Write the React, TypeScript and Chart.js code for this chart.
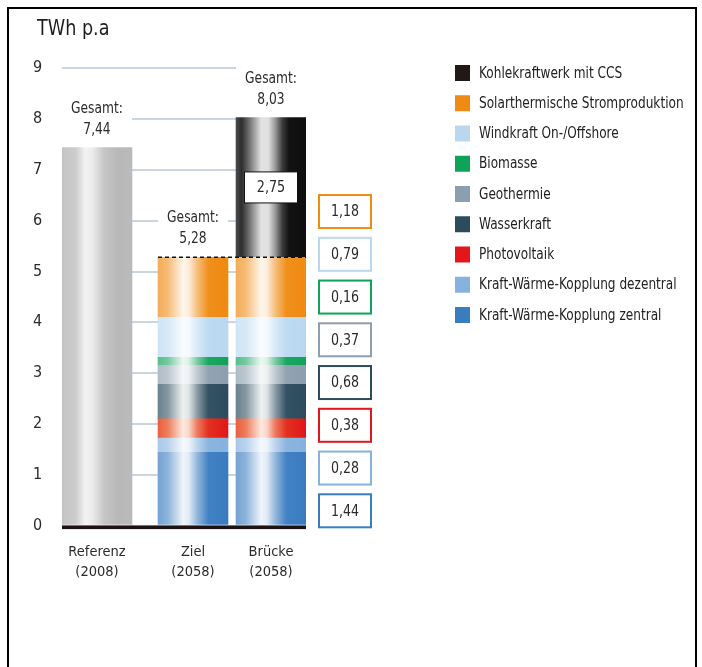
import React, { useEffect, useRef } from 'react';
import { Chart, registerables } from 'chart.js';

Chart.register(...registerables);

// Scenarios on the x axis (two-line labels)
const scenarios = ['Referenz', 'Ziel', 'Brücke'];
const scenarioYears = ['(2008)', '(2058)', '(2058)'];

// Electricity generation in TWh p.a per scenario
const referenz = [7.44, 0, 0];
const kwkZentral = [0, 1.44, 1.44];
const kwkDezentral = [0, 0.28, 0.28];
const photovoltaik = [0, 0.38, 0.38];
const wasserkraft = [0, 0.68, 0.68];
const geothermie = [0, 0.37, 0.37];
const biomasse = [0, 0.16, 0.16];
const windkraft = [0, 0.79, 0.79];
const solarthermie = [0, 1.18, 1.18];
const kohleCCS = [0, 0, 2.75];

// Value axis
const yMin = 0;
const yMax = 9;
const yStep = 1;

const FONT = '"DejaVu Sans Condensed", "Liberation Sans Narrow", sans-serif';
const TEXT = '#2b2b2b';

// Horizontal placement of the three columns (fraction of plot width)
const slotPos = [0.1434, 0.5369, 0.8566];
const BAR_W = 70;

type Stop = [number, string];

const series = [
  { label: 'Referenz', values: referenz, color: '#bdbdbd', legend: false },
  { label: 'Kraft-Wärme-Kopplung zentral', values: kwkZentral, color: '#3a7cc0', legend: true },
  { label: 'Kraft-Wärme-Kopplung dezentral', values: kwkDezentral, color: '#86b2de', legend: true },
  { label: 'Photovoltaik', values: photovoltaik, color: '#e2161b', legend: true },
  { label: 'Wasserkraft', values: wasserkraft, color: '#2c4b5d', legend: true },
  { label: 'Geothermie', values: geothermie, color: '#8d9eae', legend: true },
  { label: 'Biomasse', values: biomasse, color: '#11a25a', legend: true },
  { label: 'Windkraft On-/Offshore', values: windkraft, color: '#b9d8f0', legend: true },
  { label: 'Solarthermische Stromproduktion', values: solarthermie, color: '#ef8a12', legend: true },
  { label: 'Kohlekraftwerk mit CCS', values: kohleCCS, color: '#231815', legend: true },
];

const greyStops: Stop[] = [
  [0, '#c4c4c4'], [0.2, '#cdcdcd'], [0.33, '#f2f2f2'], [0.43, '#ececec'],
  [0.6, '#c6c6c6'], [0.8, '#b8b8b8'], [1, '#bababa'],
];
const coalStops: Stop[] = [
  [0, '#4a4a4a'], [0.08, '#2e2e2e'], [0.2, '#777777'], [0.36, '#e2e2e2'],
  [0.46, '#e0e0e0'], [0.56, '#9a9a9a'], [0.66, '#3c3c3c'], [0.76, '#121212'], [1, '#0e0e0e'],
];
const redStops: Stop[] = [
  [0, '#e9603f'], [0.14, '#ee7d5c'], [0.36, '#fde9e0'], [0.44, '#fad6c8'],
  [0.56, '#ee7a5e'], [0.72, '#e2301f'], [1, '#e1161b'],
];

function hexToRgb(hex: string) {
  const n = parseInt(hex.slice(1), 16);
  return [(n >> 16) & 255, (n >> 8) & 255, n & 255];
}
function tint(hex: string, t: number) {
  const [r, g, b] = hexToRgb(hex);
  const m = (c: number) => Math.round(c + (255 - c) * t);
  return `rgb(${m(r)},${m(g)},${m(b)})`;
}
function glossStops(hex: string): Stop[] {
  return [
    [0, tint(hex, 0.3)], [0.14, tint(hex, 0.42)], [0.36, tint(hex, 0.92)],
    [0.44, tint(hex, 0.85)], [0.56, tint(hex, 0.45)], [0.72, tint(hex, 0.04)], [1, hex],
  ];
}
function stopsFor(label: string, color: string): Stop[] {
  if (label === 'Referenz') return greyStops;
  if (label === 'Kohlekraftwerk mit CCS') return coalStops;
  if (label === 'Photovoltaik') return redStops;
  return glossStops(color);
}

const fmt = (v: number) => v.toFixed(2).replace('.', ',');

const totals = scenarios.map((_, i) => series.reduce((s, d) => s + d.values[i], 0));

// narrow text: draws with a horizontal squeeze so the condensed face runs narrower
function narrowText(ctx: CanvasRenderingContext2D, text: string, x: number, y: number, sx: number) {
  ctx.save();
  ctx.translate(x, y);
  ctx.scale(sx, 1);
  ctx.fillText(text, 0, 0);
  ctx.restore();
}

const overlayPlugin = {
  id: 'overlay',
  afterDatasetsDraw(chart: any) {
    const { ctx, chartArea, scales } = chart;
    const x = scales.x;
    const y = scales.y;
    ctx.save();

    // heavy baseline under the columns
    ctx.fillStyle = '#1b1412';
    ctx.fillRect(chartArea.left, y.getPixelForValue(0), chartArea.right - chartArea.left, 3.6);

    // dashed marker at the Ziel total, carried over the Brücke column
    const zielTop = y.getPixelForValue(totals[1]);
    ctx.strokeStyle = '#111';
    ctx.lineWidth = 1.4;
    ctx.setLineDash([4, 3]);
    ctx.beginPath();
    ctx.moveTo(x.getPixelForValue(slotPos[1]) - BAR_W / 2, zielTop);
    ctx.lineTo(x.getPixelForValue(slotPos[2]) + BAR_W / 2, zielTop);
    ctx.stroke();
    ctx.setLineDash([]);

    // "Gesamt" totals above each column
    ctx.textAlign = 'center';
    ctx.textBaseline = 'middle';
    ctx.font = `15.5px ${FONT}`;
    scenarios.forEach((_, i) => {
      const cx = x.getPixelForValue(slotPos[i]);
      const top = y.getPixelForValue(totals[i]);
      ctx.fillStyle = '#fff';
      ctx.fillRect(cx - BAR_W / 2, top - 52, BAR_W, 50);
      ctx.fillStyle = TEXT;
      narrowText(ctx, 'Gesamt:', cx, top - 39, 0.88);
      narrowText(ctx, fmt(totals[i]), cx, top - 18, 0.88);
    });

    // value box inside the coal segment
    const coalIdx = series.length - 1;
    const coalMeta = chart.getDatasetMeta(coalIdx);
    coalMeta.data.forEach((el: any, j: number) => {
      const raw = chart.data.datasets[coalIdx].data[j];
      const cy = (el.y + el.base) / 2;
      ctx.fillStyle = '#fff';
      ctx.fillRect(el.x - 26.5, cy - 15.5, 53, 31);
      ctx.strokeStyle = '#111';
      ctx.lineWidth = 1;
      ctx.strokeRect(el.x - 26.5, cy - 15.5, 53, 31);
      ctx.fillStyle = TEXT;
      ctx.font = `16.5px ${FONT}`;
      narrowText(ctx, fmt(raw.y), el.x, cy + 0.5, 0.86);
    });

    // column of boxed values for the Ziel mix, top segment first
    const mix = series.filter((s) => s.legend && s.values[1] > 0).slice().reverse();
    const pitch = 42.75;
    const boxH = 35;
    const bottom = y.getPixelForValue(0) + 2.8;
    const bx = chartArea.right + 12;
    ctx.font = `16.5px ${FONT}`;
    mix.forEach((s, i) => {
      const top = bottom - boxH - (mix.length - 1 - i) * pitch;
      ctx.fillStyle = '#fff';
      ctx.fillRect(bx, top, 54, boxH);
      ctx.strokeStyle = s.color;
      ctx.lineWidth = 2;
      ctx.strokeRect(bx + 1, top + 1, 52, boxH - 2);
      ctx.fillStyle = TEXT;
      narrowText(ctx, fmt(s.values[1]), bx + 27, top + boxH / 2 + 0.5, 0.85);
    });

    // legend
    const items = series.filter((s) => s.legend).slice().reverse();
    const lx = chartArea.right + 149;
    ctx.textAlign = 'left';
    ctx.font = `15.5px ${FONT}`;
    items.forEach((s, i) => {
      const cy = chartArea.top + 4.7 + i * 30.25;
      ctx.fillStyle = s.color;
      ctx.fillRect(lx, cy - 8, 15, 16);
      ctx.fillStyle = '#222';
      narrowText(ctx, s.label, lx + 24, cy + 0.5, 0.87);
    });

    // unit title
    ctx.font = `22px ${FONT}`;
    ctx.textBaseline = 'alphabetic';
    ctx.fillStyle = '#1e1e1e';
    narrowText(ctx, 'TWh p.a', 27, 25, 0.89);

    ctx.restore();
  },
};

export default function App() {
  const ref = useRef<HTMLCanvasElement | null>(null);

  useEffect(() => {
    const canvas = ref.current;
    if (!canvas) return;

    const datasets = series.map((s) => {
      const stops = stopsFor(s.label, s.color);
      return {
        label: s.label,
        data: s.values
          .map((v, i) => ({ x: slotPos[i], y: v }))
          .filter((p) => p.y > 0),
        borderWidth: 0,
        barThickness: BAR_W,
        backgroundColor: (c: any) => {
          const chart = c.chart;
          const xs = chart.scales && chart.scales.x;
          if (c.type !== 'data' || !xs || !chart.chartArea) return s.color;
          const cx = xs.getPixelForValue(c.raw.x);
          const g = chart.ctx.createLinearGradient(cx - BAR_W / 2, 0, cx + BAR_W / 2, 0);
          stops.forEach(([o, col]) => g.addColorStop(o, col));
          return g;
        },
      };
    });

    const chart = new Chart(canvas, {
      type: 'bar',
      data: { datasets } as any,
      options: {
        responsive: false,
        animation: false,
        layout: { padding: { left: 23, right: 389, top: 58.3, bottom: 0 } },
        plugins: {
          legend: { display: false },
          tooltip: { enabled: false },
          title: { display: false },
        },
        scales: {
          x: {
            type: 'linear',
            stacked: true,
            min: 0,
            max: 1,
            offset: false,
            grid: { display: false },
            border: { display: false },
            afterBuildTicks: (axis: any) => {
              axis.ticks = slotPos.map((v) => ({ value: v }));
            },
            afterFit: (axis: any) => {
              axis.height = 141.5;
            },
            ticks: {
              autoSkip: false,
              maxRotation: 0,
              padding: 9,
              color: TEXT,
              font: { family: FONT, size: 14.5, lineHeight: 1.38 },
              callback: (value: any) => {
                const i = slotPos.indexOf(value);
                return i >= 0 ? [scenarios[i], scenarioYears[i]] : '';
              },
            },
          },
          y: {
            stacked: true,
            min: yMin,
            max: yMax,
            grid: { color: '#c9d6e2', lineWidth: 2, drawTicks: false },
            border: { display: false },
            afterFit: (axis: any) => {
              axis.width = 29;
            },
            ticks: {
              stepSize: yStep,
              crossAlign: 'far',
              color: TEXT,
              font: { family: FONT, size: 16 },
            },
          },
        },
      } as any,
      plugins: [overlayPlugin],
    });

    return () => chart.destroy();
  }, []);

  return (
    <div
      style={{
        position: 'fixed',
        left: 7,
        top: 7,
        boxSizing: 'border-box',
        width: 690,
        height: 680,
        borderTop: '2px solid #000',
        borderLeft: '2px solid #000',
        borderRight: '2px solid #000',
        background: '#fff',
      }}
    >
      <canvas ref={ref} width={685} height={657} style={{ position: 'absolute', left: 1, top: 1 }} />
    </div>
  );
}
